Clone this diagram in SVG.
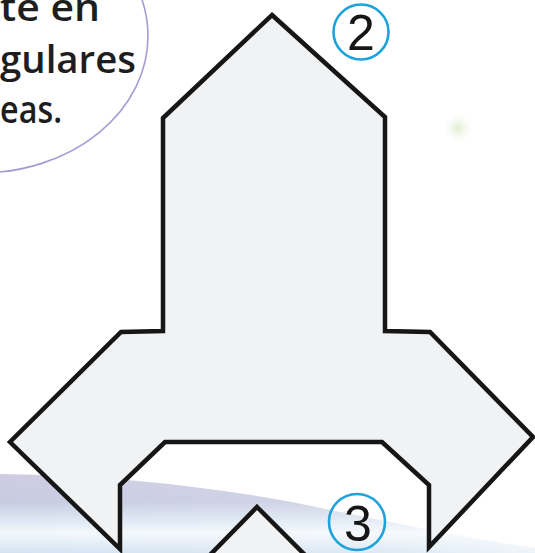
<svg xmlns="http://www.w3.org/2000/svg" width="535" height="553" viewBox="0 0 535 553">
  <defs>
    <linearGradient id="band" x1="0" y1="0" x2="0" y2="1">
      <stop offset="0" stop-color="#cfcce3"/>
      <stop offset="0.35" stop-color="#c7cbe2"/>
      <stop offset="0.6" stop-color="#dfe9f4"/>
      <stop offset="0.75" stop-color="#f4f8fc"/>
      <stop offset="1" stop-color="#d4e3f1"/>
    </linearGradient>
    <linearGradient id="bandFade" x1="0" y1="0" x2="1" y2="0">
      <stop offset="0" stop-color="#fff" stop-opacity="0"/>
      <stop offset="0.7" stop-color="#fff" stop-opacity="0.2"/>
      <stop offset="1" stop-color="#fff" stop-opacity="0.6"/>
    </linearGradient>
    <radialGradient id="blob">
      <stop offset="0" stop-color="#d6e8c2" stop-opacity="0.8"/>
      <stop offset="1" stop-color="#eef5e8" stop-opacity="0"/>
    </radialGradient>
    <style>
      .piece { fill: #f1f2f3; stroke: #161616; stroke-width: 4.5; stroke-linejoin: miter; }
      .badge { fill: none; stroke: #1ea2dc; stroke-width: 2.6; }
      .num { font-family: "Liberation Sans", Arial, sans-serif; font-size: 50px; fill: #161616; text-anchor: middle; }
      .say { font-family: "Open Sans", "Noto Sans", sans-serif; font-size: 38px; font-weight: 600; fill: #1e1e1e; }
    </style>
  </defs>
  <rect width="535" height="553" fill="#ffffff"/>
  <g id="background">
    <path d="M0,474 C120,476 230,488 330,510 C420,528 480,540 535,548 L535,553 L0,553 Z" fill="url(#band)"/>
    <path d="M0,474 C120,476 230,488 330,510 C420,528 480,540 535,548 L535,553 L0,553 Z" fill="url(#bandFade)"/>
    <circle cx="458" cy="128" r="14" fill="url(#blob)"/>
  </g>
  <g id="bubble">
    <ellipse cx="-20" cy="36" rx="168" ry="137" fill="#ffffff" stroke="#a79ad6" stroke-width="1.6"/>
    <text class="say" x="0" y="21" textLength="100" lengthAdjust="spacingAndGlyphs">te en</text>
    <text class="say" x="0" y="73" textLength="136" lengthAdjust="spacingAndGlyphs">gulares</text>
    <text class="say" x="0" y="123" textLength="62" lengthAdjust="spacingAndGlyphs">eas.</text>
  </g>
  <g id="piece2">
    <polygon class="piece" points="272,15 385,117 385,331 430,332 533,437 429,547 429,485 382,442 165,442 120,485 120,549 10,442 121,332 163,331 163,118"/>
  </g>
  <g id="piece3">
    <polygon class="piece" points="257,507 308,558 207,558"/>
  </g>
  <g id="label2">
    <circle class="badge" cx="361" cy="32" r="27.5"/>
    <text class="num" x="361" y="50">2</text>
  </g>
  <g id="label3">
    <circle class="badge" cx="357" cy="522" r="28"/>
    <text class="num" x="358" y="541">3</text>
  </g>
</svg>
